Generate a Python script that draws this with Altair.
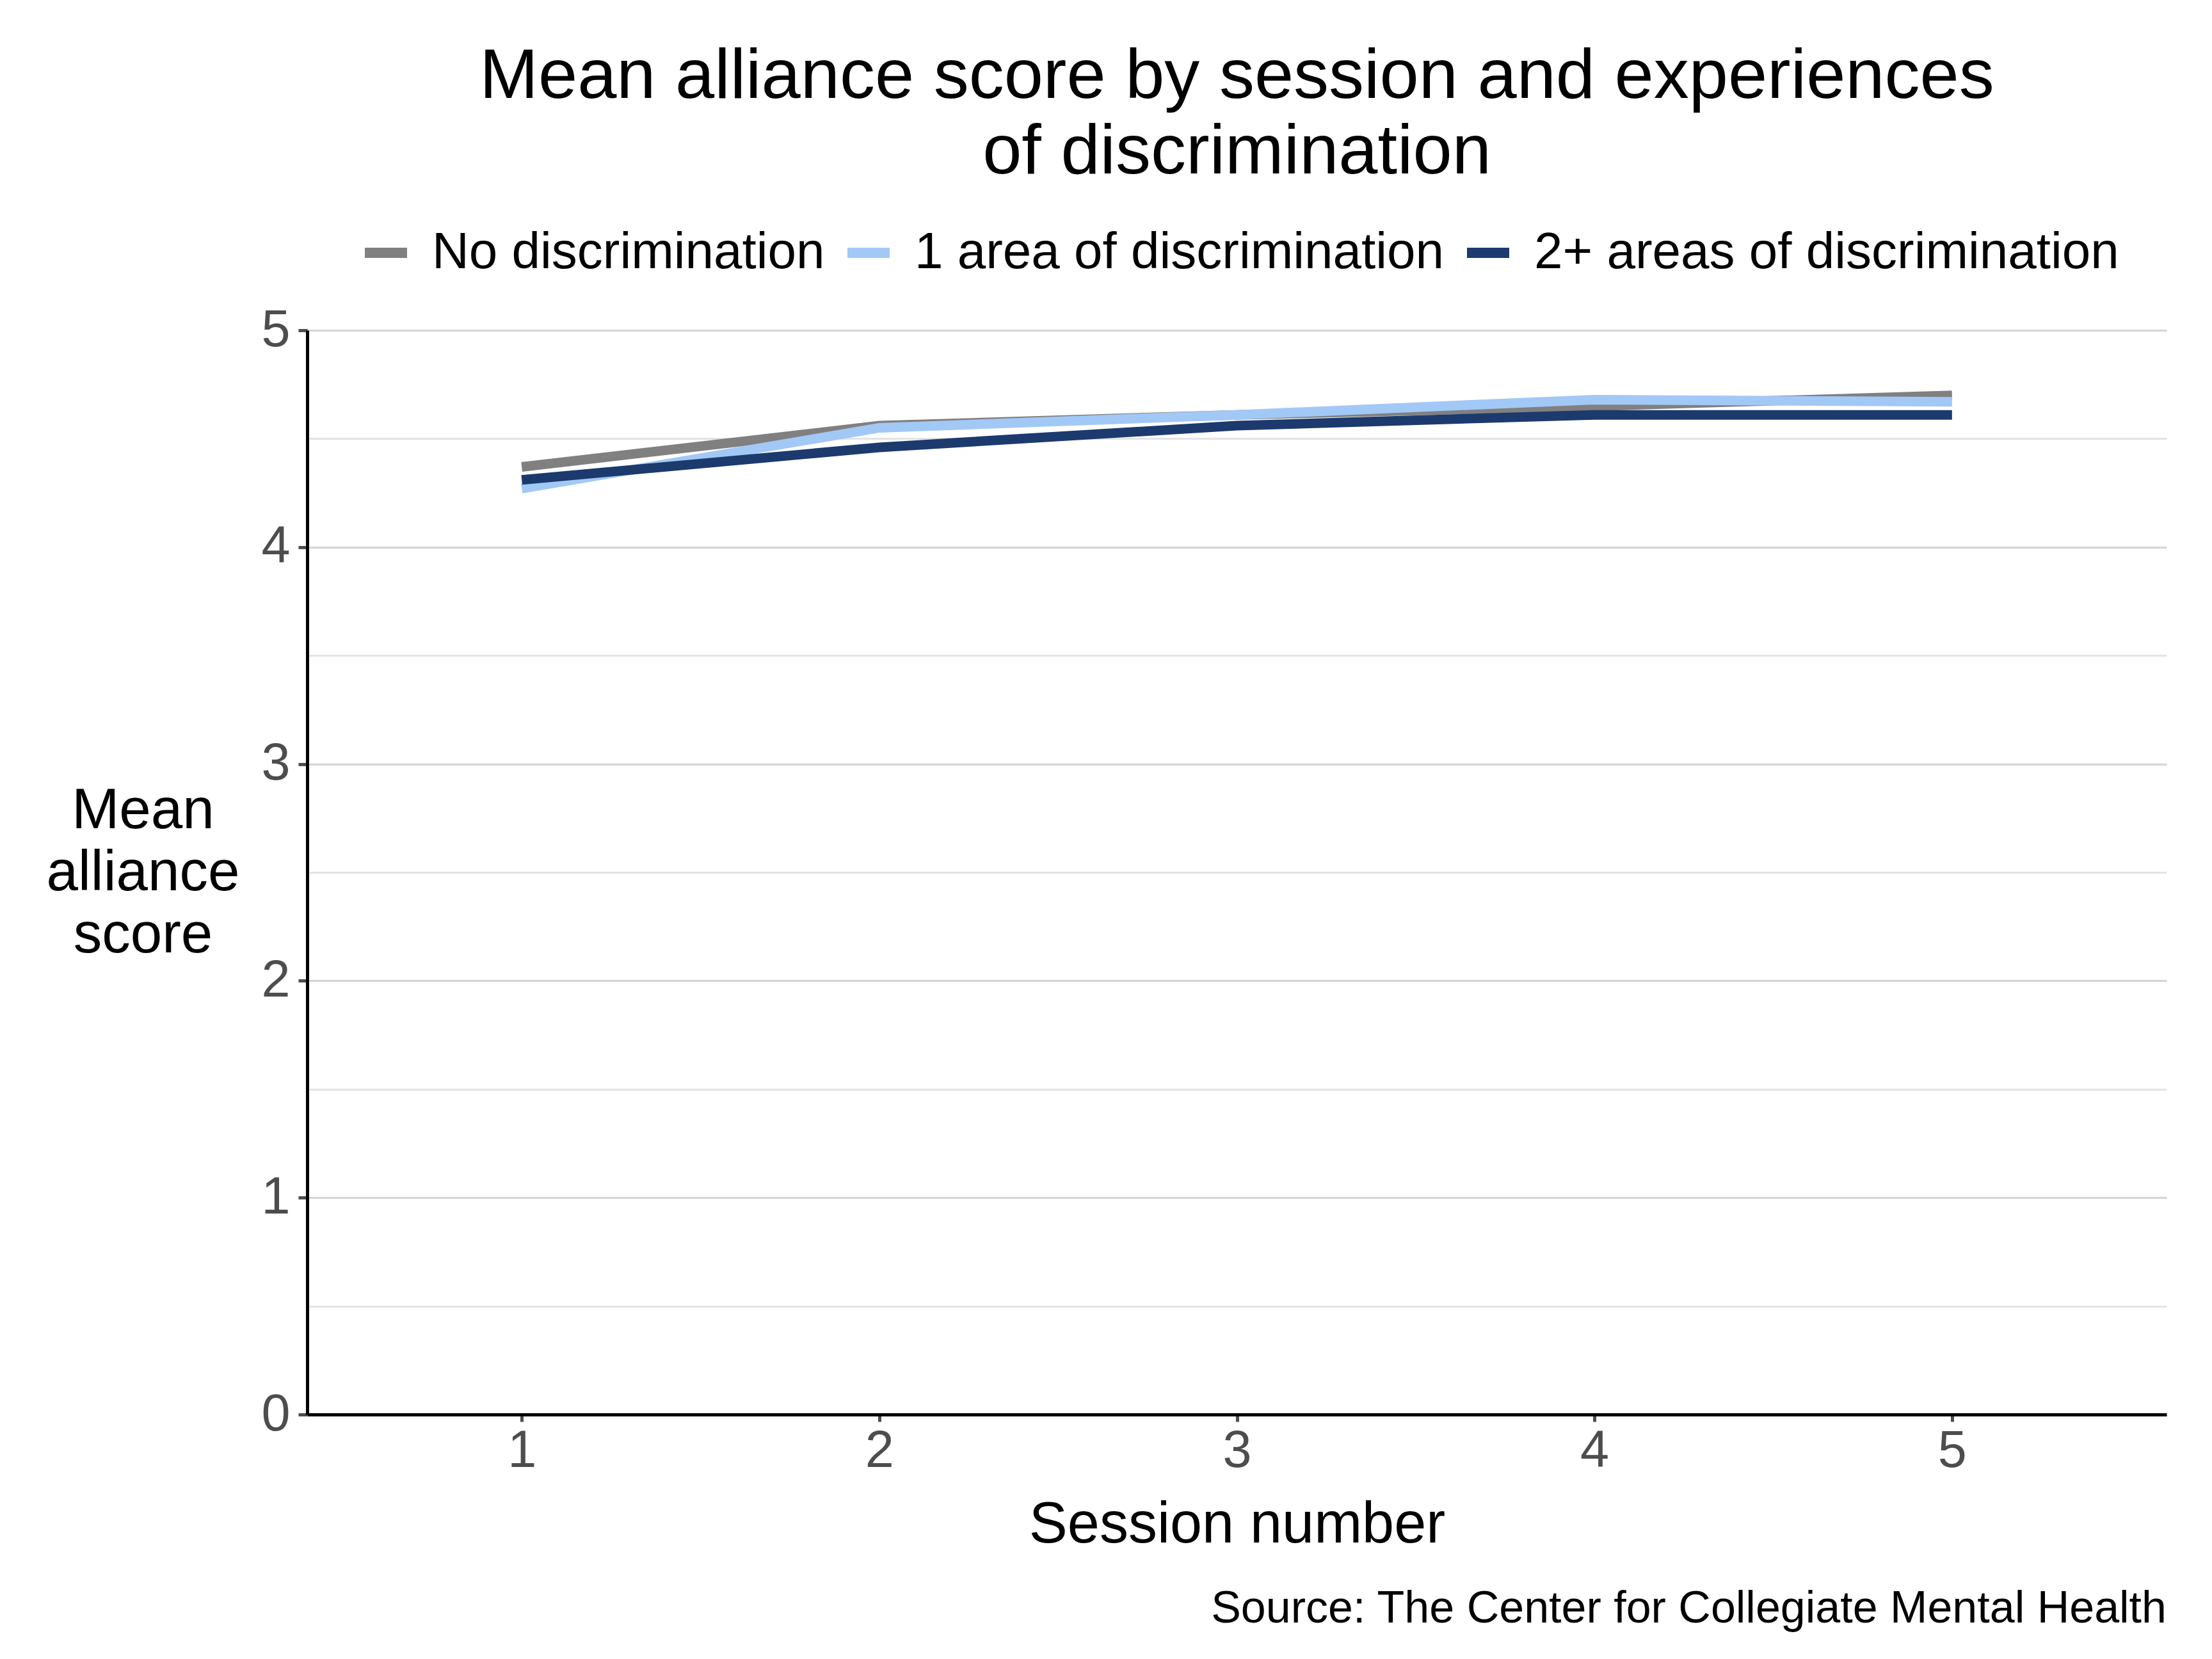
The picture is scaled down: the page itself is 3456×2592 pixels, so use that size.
import altair as alt
import pandas as pd

sessions = [1, 2, 3, 4, 5]
groups = ["No discrimination", "1 area of discrimination", "2+ areas of discrimination"]
no_disc = [4.37, 4.56, 4.61, 4.65, 4.70]
one_area = [4.27, 4.55, 4.61, 4.68, 4.67]
two_plus = [4.31, 4.46, 4.56, 4.61, 4.61]
colors = ["#808080", "#a2c8f6", "#1c3a6e"]
title_lines = ["Mean alliance score by session and experiences", "of discrimination"]
y_title = ["Mean", "alliance", "score"]
x_title = "Session number"
source_note = "Source: The Center for Collegiate Mental Health"

rows = []
for g, vals in zip(groups, [no_disc, one_area, two_plus]):
    for s, v in zip(sessions, vals):
        rows.append({"session": s, "group": g, "score": v})
df = pd.DataFrame(rows)

W, H = 2905, 1694
FONT = "Liberation Sans"

lines = alt.Chart(df).mark_line(strokeWidth=15, strokeCap="butt", strokeJoin="miter").encode(
    x=alt.X("session:Q", title=x_title,
            scale=alt.Scale(domain=[0.4, 5.6], nice=False, zero=False),
            axis=alt.Axis(values=sessions, grid=False, domainColor="black", domainWidth=5,
                          tickColor="#4d4d4d", tickWidth=5, tickSize=11, labelPadding=6,
                          labelFontSize=81, labelColor="#4d4d4d", labelFont=FONT,
                          titleFontSize=90, titleFont=FONT, titleColor="black", titleFontWeight="normal",
                          titleX=W / 2, titleY=199, titleBaseline="alphabetic", titleAlign="center")),
    y=alt.Y("score:Q", title=y_title,
            scale=alt.Scale(domain=[0, 5], nice=False),
            axis=alt.Axis(values=[0, 0.5, 1, 1.5, 2, 2.5, 3, 3.5, 4, 4.5, 5],
                          labelExpr="datum.value % 1 === 0 ? format(datum.value, 'd') : ''",
                          grid=True,
                          gridColor={"condition": {"test": "datum.value % 1 !== 0", "value": "#e3e3e3"}, "value": "#d4d4d4"},
                          gridWidth=3,
                          tickOpacity={"condition": {"test": "datum.value % 1 !== 0", "value": 0}, "value": 1},
                          domainColor="black", domainWidth=5,
                          tickColor="#4d4d4d", tickWidth=5, tickSize=14, labelPadding=13,
                          labelFontSize=81, labelColor="#4d4d4d", labelFont=FONT,
                          titleFontSize=89, titleFont=FONT, titleColor="black", titleFontWeight="normal",
                          titleAngle=0, titleX=-257, titleY=H / 2 - 97, titleAlign="center",
                          titleBaseline="middle", titleLineHeight=97)),
    color=alt.Color("group:N", scale=alt.Scale(domain=groups, range=colors),
                    sort=groups,
                    legend=alt.Legend(title=None, orient="none", direction="horizontal",
                                      legendX=82, legendY=-162,
                                      symbolType="stroke", symbolStrokeWidth=16, symbolSize=4356,
                                      labelFontSize=80, labelFont=FONT, labelColor="black",
                                      labelLimit=2000,
                                      labelOffset=31, columnPadding=3, padding=0)),
)

src = alt.Chart(pd.DataFrame({"t": [source_note]})).mark_text(
    align="right", baseline="alphabetic", fontSize=70, font=FONT, color="black"
).encode(x=alt.value(W), y=alt.value(2535 - 516), text="t:N")

chart = alt.layer(lines, src).properties(
    width=W, height=H,
    title=alt.TitleParams(title_lines, fontSize=110, font=FONT, fontWeight="normal", color="black",
                          anchor="middle", frame="group", lineHeight=118, offset=60),
    autosize=alt.AutoSizeParams(type="none"),
    padding={"left": 472, "top": 508, "right": 60, "bottom": 370},
).configure_view(stroke=None)

chart.save("out.html", embed_options={"renderer": "svg", "actions": False})
